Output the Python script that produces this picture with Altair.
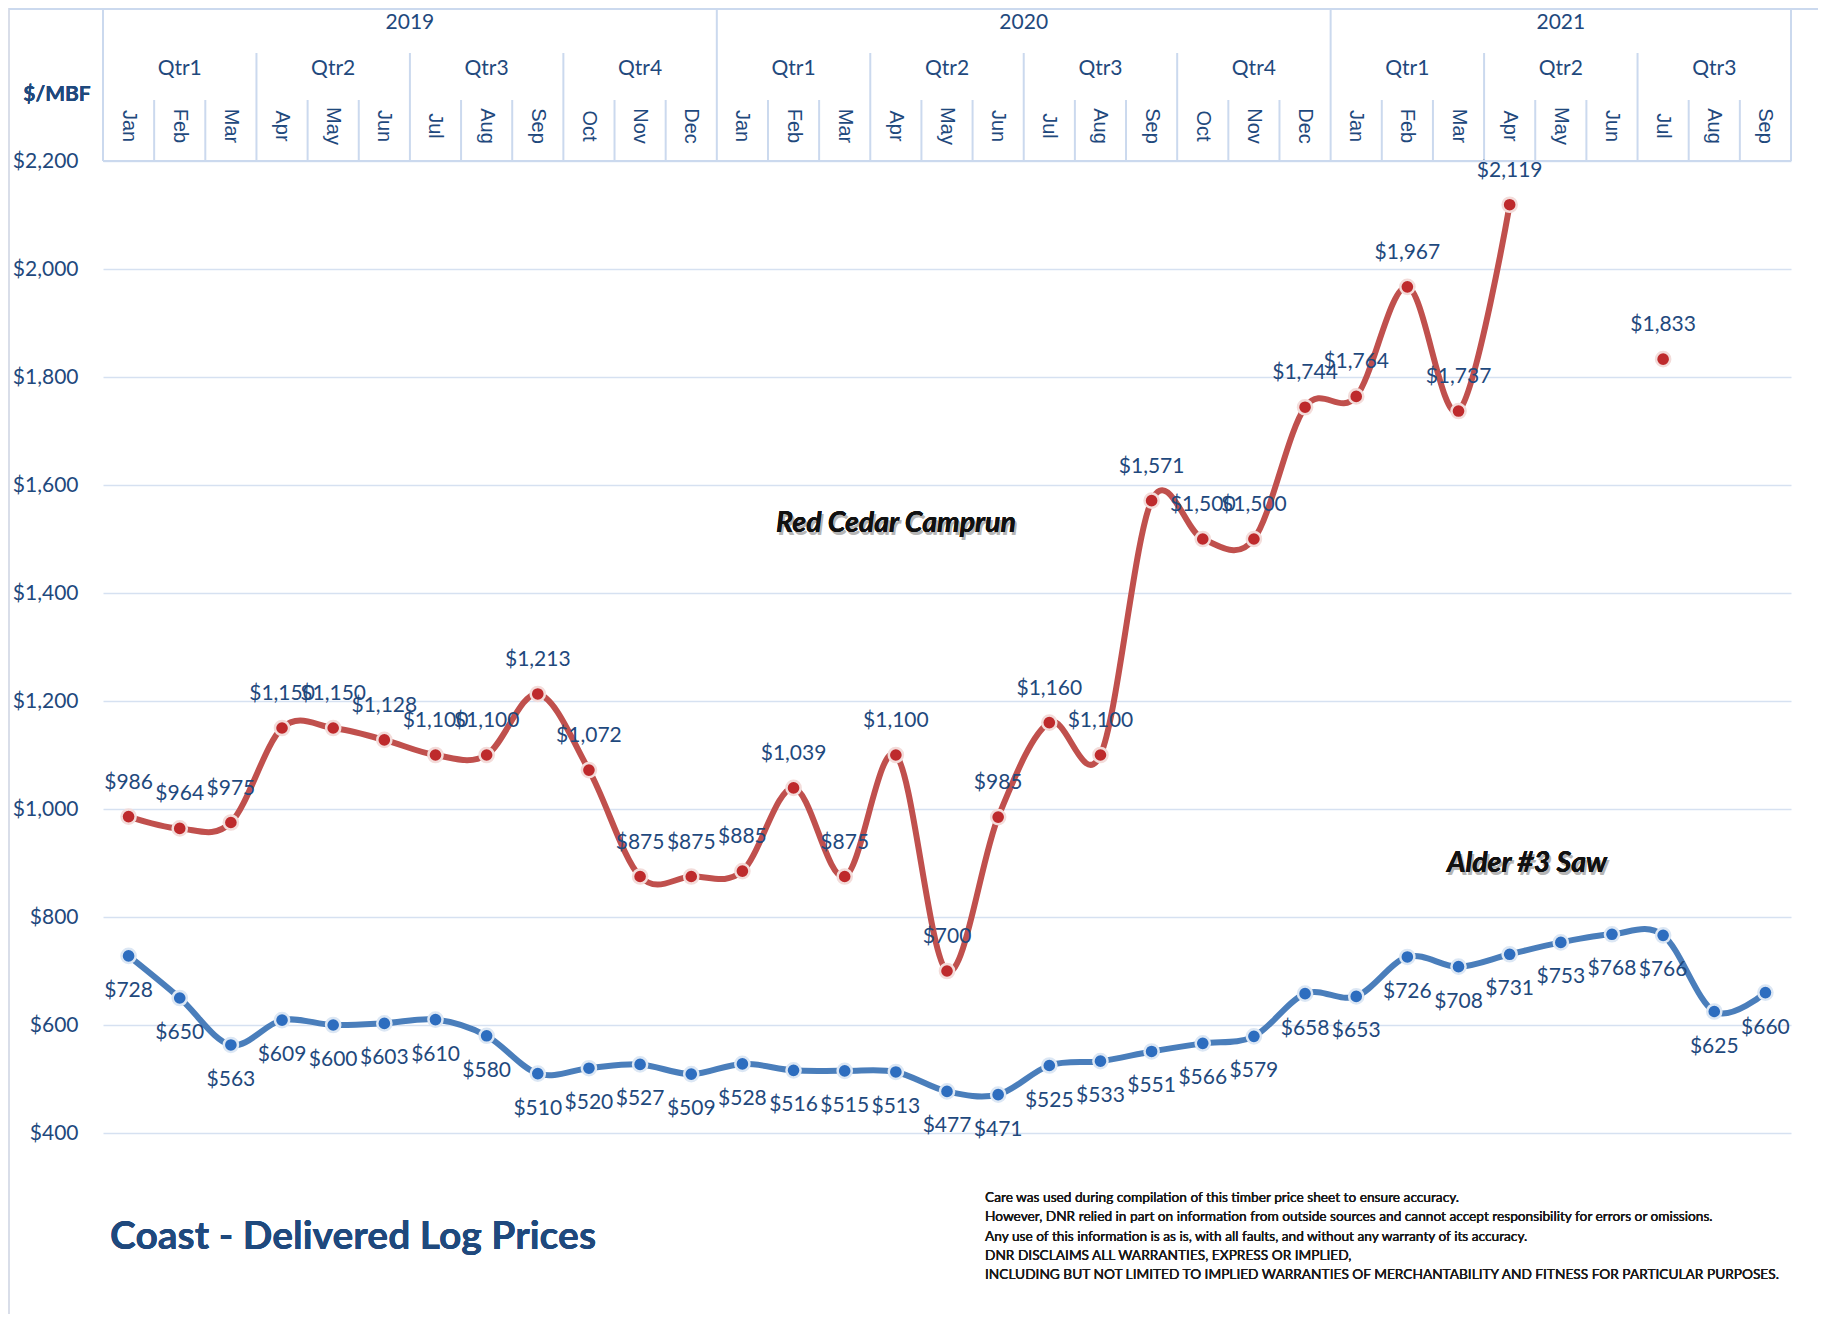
import altair as alt
import pandas as pd

# ---------------- data ----------------
months = ["Jan", "Feb", "Mar", "Apr", "May", "Jun", "Jul", "Aug", "Sep", "Oct", "Nov", "Dec",
          "Jan", "Feb", "Mar", "Apr", "May", "Jun", "Jul", "Aug", "Sep", "Oct", "Nov", "Dec",
          "Jan", "Feb", "Mar", "Apr", "May", "Jun", "Jul", "Aug", "Sep"]
years = ["2019", "2020", "2021"]
year_lengths = [12, 12, 9]
quarters = ["Qtr1", "Qtr2", "Qtr3", "Qtr4",
            "Qtr1", "Qtr2", "Qtr3", "Qtr4",
            "Qtr1", "Qtr2", "Qtr3"]

red_cedar = [986, 964, 975, 1150, 1150, 1128, 1100, 1100, 1213, 1072, 875, 875,
             885, 1039, 875, 1100, 700, 985, 1160, 1100, 1571, 1500, 1500, 1744,
             1764, 1967, 1737, 2119, None, None, 1833, None, None]
alder = [728, 650, 563, 609, 600, 603, 610, 580, 510, 520, 527, 509,
         528, 516, 515, 513, 477, 471, 525, 533, 551, 566, 579, 658,
         653, 726, 708, 731, 753, 768, 766, 625, 660]

series_names = ["Red Cedar Camprun", "Alder #3 Saw"]
y_ticks = [400, 600, 800, 1000, 1200, 1400, 1600, 1800, 2000, 2200]
title_text = "Coast - Delivered Log Prices"
unit_text = "$/MBF"
disclaimer_lines = [
    "Care was used during compilation of this timber price sheet to ensure accuracy.",
    "However, DNR relied in part on information from outside sources and cannot accept responsibility for errors or omissions.",
    "Any use of this information is as is, with all faults, and without any warranty of its accuracy.",
    "DNR DISCLAIMS ALL WARRANTIES, EXPRESS OR IMPLIED,",
    "INCLUDING BUT NOT LIMITED TO IMPLIED WARRANTIES OF MERCHANTABILITY AND FITNESS FOR PARTICULAR PURPOSES.",
]

# ---------------- styling ----------------
FONT = "Lato"
TXT = "#1F497D"
GRID = "#D6E1F1"
RED_LINE = "#C0504D"
BLUE_LINE = "#4A7EBB"
RED_PT = "#BE2A2C"
BLUE_PT = "#2D6DBF"

# ---------------- tables ----------------
rows = []
seg = 0
for i, v in enumerate(red_cedar):
    if v is None:
        seg += 1
        continue
    rows.append({"pos": i, "series": series_names[0], "value": v, "seg": seg})
for i, v in enumerate(alder):
    rows.append({"pos": i, "series": series_names[1], "value": v, "seg": 0})
df = pd.DataFrame(rows)

month_df = pd.DataFrame({"pos": list(range(len(months))), "label": months})

year_rows, start = [], 0
for y, n in zip(years, year_lengths):
    year_rows.append({"label": y, "center": start + (n - 1) / 2})
    start += n
year_df = pd.DataFrame(year_rows)

q_rows = []
for qi, q in enumerate(quarters):
    q_rows.append({"label": q, "center": qi * 3 + 1})
quarter_df = pd.DataFrame(q_rows)

n = len(months)
year_bounds = [-0.5]
acc = 0
for L in year_lengths:
    acc += L
    year_bounds.append(acc - 0.5)
year_sep = pd.DataFrame({"pos": year_bounds})
quarter_sep = pd.DataFrame({"pos": [k - 0.5 for k in range(1, n) if k % 3 == 0 and (k - 0.5) not in year_bounds]})
month_sep = pd.DataFrame({"pos": [k - 0.5 for k in range(1, n) if k % 3 != 0]})

# ---------------- scales ----------------
xscale = alt.Scale(domain=[-0.5, n - 0.5], nice=False, zero=False)
yscale = alt.Scale(domain=[400, 2200], nice=False, zero=False)
X = alt.X("pos:Q", scale=xscale, axis=None)
Y = alt.Y("value:Q", scale=yscale,
          axis=alt.Axis(values=y_ticks, format="$,.0f", title=None, ticks=False, domain=False,
                        labelFont=FONT, labelFontSize=21, labelColor=TXT, labelPadding=25,
                        grid=True, gridColor=GRID, gridWidth=1.5))

line_color = alt.Color("series:N", scale=alt.Scale(domain=series_names, range=[RED_LINE, BLUE_LINE]), legend=None)
pt_fill = alt.Fill("series:N", scale=alt.Scale(domain=series_names, range=[RED_PT, BLUE_PT]), legend=None)
pt_stroke = alt.Stroke("series:N", scale=alt.Scale(domain=series_names, range=["#F3DCDA", "#DCE7F4"]), legend=None)

base = alt.Chart(df)

lines = base.mark_line(interpolate="cardinal", strokeWidth=6, strokeCap="round").encode(
    x=X, y=Y, color=line_color, detail="seg:N")

points = base.mark_circle(size=200, opacity=1, strokeWidth=2.5).encode(
    x=X, y=Y, fill=pt_fill, stroke=pt_stroke)

red_labels = base.transform_filter(alt.datum.series == series_names[0]).mark_text(
    font=FONT, fontSize=21, color=TXT, dy=-34, baseline="middle").encode(
    x=X, y=Y, text=alt.Text("value:Q", format="$,.0f"))
blue_labels = base.transform_filter(alt.datum.series == series_names[1]).mark_text(
    font=FONT, fontSize=21, color=TXT, dy=35, baseline="middle").encode(
    x=X, y=Y, text=alt.Text("value:Q", format="$,.0f"))

# ---------------- header (multi-level category axis) ----------------
SEP = "#CBD9EE"
year_lines = alt.Chart(year_sep).mark_rule(color=SEP, strokeWidth=2).encode(
    x=alt.X("pos:Q", scale=xscale, axis=None), y=alt.value(-153), y2=alt.value(0))
quarter_lines = alt.Chart(quarter_sep).mark_rule(color=SEP, strokeWidth=2).encode(
    x=alt.X("pos:Q", scale=xscale, axis=None), y=alt.value(-108), y2=alt.value(0))
month_lines = alt.Chart(month_sep).mark_rule(color=SEP, strokeWidth=2).encode(
    x=alt.X("pos:Q", scale=xscale, axis=None), y=alt.value(-61), y2=alt.value(0))

top_line = alt.Chart(year_sep).mark_rule(color=SEP, strokeWidth=2).encode(
    x=alt.value(-94), x2=alt.value(1715), y=alt.value(-152))
left_border = alt.Chart(year_sep).mark_rule(color="#D9DEE8", strokeWidth=1.5).encode(
    x=alt.value(-94), y=alt.value(-153), y2=alt.value(1153))
axis_line = alt.Chart(year_sep).mark_rule(color=SEP, strokeWidth=2).encode(
    x=alt.value(0), x2=alt.value(1688), y=alt.value(0))

year_text = alt.Chart(year_df).mark_text(font=FONT, fontSize=21, color=TXT, baseline="middle").encode(
    x=alt.X("center:Q", scale=xscale, axis=None), y=alt.value(-138), text="label:N")
quarter_text = alt.Chart(quarter_df).mark_text(font=FONT, fontSize=21, color=TXT, baseline="middle").encode(
    x=alt.X("center:Q", scale=xscale, axis=None), y=alt.value(-92), text="label:N")
month_text = alt.Chart(month_df).mark_text(font="Liberation Sans", fontSize=20, color=TXT,
                                           angle=90, align="center", baseline="middle").encode(
    x=alt.X("pos:Q", scale=xscale, axis=None), y=alt.value(-35), text="label:N")

unit = alt.Chart(year_df).mark_text(font=FONT, fontSize=21, fontWeight="bold", color=TXT,
                                    baseline="middle", align="center", text=unit_text).encode(
    x=alt.value(-46), y=alt.value(-66))

# ---------------- annotations ----------------
def annot(label, px, py):
    shadow = alt.Chart(year_df).mark_text(font=FONT, fontSize=28.5, fontWeight="bold", fontStyle="italic",
                                          color="#A8A8A8", opacity=0.45, text=label, dx=2, dy=3,
                                          baseline="middle").encode(x=alt.value(px), y=alt.value(py))
    main = alt.Chart(year_df).mark_text(font=FONT, fontSize=28.5, fontWeight="bold", fontStyle="italic",
                                        color="#111111", text=label,
                                        baseline="middle").encode(x=alt.value(px), y=alt.value(py))
    return shadow + main

red_annot = annot(series_names[0], 793, 362)
blue_annot = annot(series_names[1], 1424, 702)

title = alt.Chart(year_df).mark_text(font=FONT, fontSize=39, fontWeight="bold", color=TXT,
                                     align="left", baseline="middle", text=title_text).encode(
    x=alt.value(7), y=alt.value(1076))

disclaimer = alt.Chart(year_df).mark_text(font=FONT, fontSize=13.7, color="#1A1A1A", align="left",
                                          baseline="top", lineBreak="\n", lineHeight=19.3,
                                          text="\n".join(disclaimer_lines)).encode(
    x=alt.value(882), y=alt.value(1030))

chart = alt.layer(
    left_border, top_line, year_lines, quarter_lines, month_lines,
    lines, points, red_labels, blue_labels, axis_line,
    year_text, quarter_text, month_text, unit,
    red_annot, blue_annot, title, disclaimer,
).properties(
    width=1688, height=972,
    autosize=alt.AutoSizeParams(type="none"),
    padding={"left": 95, "top": 153, "right": 27, "bottom": 182},
    background="white",
).configure_view(stroke=None)

chart.save("out.html", embed_options={"renderer": "svg", "actions": False})
